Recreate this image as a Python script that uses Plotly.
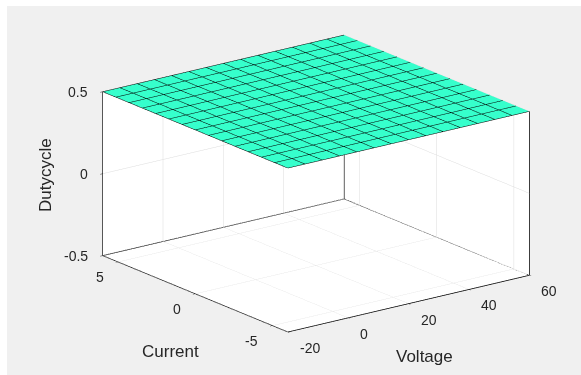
import numpy as np
import plotly.graph_objects as go

# ---- data ----
VOLTAGE_RANGE = [-20, 60]
CURRENT_RANGE = [-6, 6]
DUTY_RANGE = [-0.5, 0.5]
N_GRID = 15
voltage = np.linspace(VOLTAGE_RANGE[0], VOLTAGE_RANGE[1], N_GRID)
current = np.linspace(CURRENT_RANGE[0], CURRENT_RANGE[1], N_GRID)
duty_level = 0.5
duty = [[duty_level] * N_GRID for _ in range(N_GRID)]

voltage_ticks = [-20, 0, 20, 40, 60]
current_ticks = [-5, 0, 5]
duty_ticks = [-0.5, 0, 0.5]
duty_ticklabels = ["-0.5", "0", "0.5"]

FACE = "rgb(54,255,204)"
TXT = "#262626"
FONT = "Liberation Sans, Arial, Helvetica, sans-serif"
W, H = 581, 375
M = dict(l=51, r=0, t=0, b=8)
ZOOM = 1.649

fig = go.Figure()

fig.add_trace(go.Surface(
    x=voltage, y=current, z=duty,
    colorscale=[[0, FACE], [1, FACE]], showscale=False,
    lighting=dict(ambient=1, diffuse=0, specular=0, roughness=1, fresnel=0),
    contours=dict(
        x=dict(show=True, start=VOLTAGE_RANGE[0], end=VOLTAGE_RANGE[1] + 1e-6,
               size=(VOLTAGE_RANGE[1] - VOLTAGE_RANGE[0]) / (N_GRID - 1), color="black", width=1.5),
        y=dict(show=True, start=CURRENT_RANGE[0], end=CURRENT_RANGE[1] + 1e-6,
               size=(CURRENT_RANGE[1] - CURRENT_RANGE[0]) / (N_GRID - 1), color="black", width=1.5),
    ),
    hoverinfo="skip",
))

# box edges of the back walls and the two front axis lines
v0, v1 = VOLTAGE_RANGE
c0, c1 = CURRENT_RANGE
z0, z1 = DUTY_RANGE
edges = [
    ([v0, v0], [c1, c1], [z0, z1]),
    ([v1, v1], [c0, c0], [z0, z1]),
    ([v1, v1], [c1, c1], [z0, z1]),
    ([v0, v1], [c1, c1], [z0, z0]),
    ([v1, v1], [c0, c1], [z0, z0]),
    ([v0, v1], [c0, c0], [z0, z0]),
    ([v0, v0], [c0, c1], [z0, z0]),
]
for ex, ey, ez in edges:
    fig.add_trace(go.Scatter3d(x=ex, y=ey, z=ez, mode="lines",
                               line=dict(color="black", width=1.5),
                               hoverinfo="skip", showlegend=False))

axis_common = dict(
    showbackground=True, backgroundcolor="white",
    gridcolor="#dcdcdc", gridwidth=1,
    showline=False, zeroline=False,
    ticks="outside", ticklen=3, tickcolor="#262626",
    showticklabels=False,
    title=dict(text=""), showspikes=False,
)

tick_font = dict(family=FONT, size=14, color=TXT)
scene_ann = []
for v in voltage_ticks:
    scene_ann.append(dict(x=v, y=c0, z=z0, text=str(v), showarrow=False,
                          xanchor="left", yanchor="middle", xshift=10, yshift=-16, font=tick_font))
for c in current_ticks:
    scene_ann.append(dict(x=v0, y=c, z=z0, text=str(c), showarrow=False,
                          xanchor="right", yanchor="middle", xshift=-12, yshift=-15, font=tick_font))
for zt, zl in zip(duty_ticks, duty_ticklabels):
    scene_ann.append(dict(x=v0, y=c1, z=zt, text=zl, showarrow=False,
                          xanchor="right", yanchor="middle", xshift=-13, yshift=0, font=tick_font))

def px2paper(x, y):
    pw, ph = W - M["l"] - M["r"], H - M["t"] - M["b"]
    return (x - M["l"]) / pw, 1 - (y - M["t"]) / ph

title_font = dict(size=17, color=TXT, family=FONT)
titles = [("Voltage", 424, 356.7, 0), ("Current", 170.7, 351.7, 0), ("Dutycycle", 45, 175, -90)]
annotations = []
for text, px, py, ang in titles:
    ax_, ay_ = px2paper(px, py)
    annotations.append(dict(text=text, x=ax_, y=ay_, xref="paper", yref="paper",
                            xanchor="center", yanchor="middle", showarrow=False,
                            textangle=ang, font=title_font))

# grey figure area with a thin white strip on the left and top
gx0, gy0 = px2paper(7, 6)
gx1, gy1 = px2paper(W, H)
shapes = [dict(type="rect", xref="paper", yref="paper", x0=gx0, y0=gy1, x1=gx1, y1=gy0,
               fillcolor="#f0f0f0", line=dict(width=0), layer="below")]

fig.update_layout(
    width=W, height=H,
    paper_bgcolor="white",
    margin=M,
    showlegend=False,
    font=dict(family=FONT, color=TXT),
    scene=dict(
        xaxis=dict(range=VOLTAGE_RANGE, tickvals=voltage_ticks, **axis_common),
        yaxis=dict(range=CURRENT_RANGE, tickvals=current_ticks, **axis_common),
        zaxis=dict(range=DUTY_RANGE, tickvals=duty_ticks, **axis_common),
        aspectmode="manual",
        aspectratio=dict(x=1.0 * ZOOM, y=1.016 * ZOOM, z=0.57 * ZOOM),
        camera=dict(
            eye=dict(x=-0.572 * 2, y=-0.758 * 2, z=0.311 * 2),
            center=dict(x=0, y=0, z=0),
            up=dict(x=0, y=0, z=1),
            projection=dict(type="orthographic"),
        ),
        annotations=scene_ann,
    ),
    annotations=annotations,
    shapes=shapes,
)

fig.write_html("out.html", config={"displayModeBar": False},
               post_script="document.body.style.margin='0';")
